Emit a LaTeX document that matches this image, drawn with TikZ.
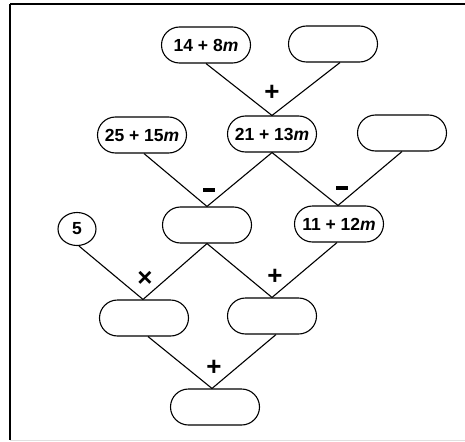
\documentclass[tikz,border=0pt]{standalone}
\usepackage{fontspec}
\setmainfont{Liberation Sans}
\usetikzlibrary{shapes.geometric}
\begin{document}
\begin{tikzpicture}[x=1pt,y=-1pt,
  pill/.style={draw,line width=1.1pt,rounded corners=18pt,minimum width=89pt,minimum height=36pt,inner sep=0pt,font=\fontsize{17.5}{20}\selectfont\bfseries},
  circ/.style={draw,ellipse,line width=1.1pt,minimum width=38pt,minimum height=33pt,inner sep=0pt,font=\fontsize{17.5}{20}\selectfont\bfseries},
  op/.style={inner sep=0pt,font=\fontsize{26}{28}\selectfont\bfseries},
  conn/.style={line width=1.1pt}]
\useasboundingbox (0,0) rectangle (465,441);
% frame
\draw[line width=2pt] (10,4.5) -- (465,4.5);
\draw[line width=2pt] (10,4.5) -- (10,440);
\draw[line width=0.6pt,black!12] (10,440) -- (465,440);
% nodes
\node[pill] (a) at (206,45) {14 + 8\textit{m}};
\node[pill] (b) at (333,44) {};
\node[pill] (c) at (142,135) {25 + 15\textit{m}};
\node[pill] (d) at (272,134) {21 + 13\textit{m}};
\node[pill] (e) at (402,133) {};
\node[circ] (f) at (77,229) {5};
\node[pill] (g) at (207,225) {};
\node[pill] (h) at (339,224) {11 + 12\textit{m}};
\node[pill] (i) at (144,318) {};
\node[pill] (j) at (272,316) {};
\node[pill] (k) at (215,407) {};
% connectors
\draw[conn] (a.south) -- (d.north);
\draw[conn] ([xshift=7pt]b.south) -- (d.north);
\draw[conn] ([xshift=2pt]c.south) -- (g.north);
\draw[conn] (d.south) -- (g.north);
\draw[conn] (d.south) -- ([xshift=-1pt]h.north);
\draw[conn] (e.south) -- ([xshift=-1pt]h.north);
\draw[conn] ([xshift=2pt]f.south) -- ([xshift=-1pt]i.north);
\draw[conn] (g.south) -- ([xshift=-1pt]i.north);
\draw[conn] (g.south) -- (j.north);
\draw[conn] ([xshift=-2pt]h.south) -- (j.north);
\draw[conn] ([xshift=4pt]i.south) -- ([xshift=-3pt]k.north);
\draw[conn] ([xshift=4pt]j.south) -- ([xshift=-3pt]k.north);
% operators
\node[op] (o1) at (272,93) {+};
\node[op] (o2) at (209,190) {\rule{12pt}{3.5pt}};
\node[op] (o3) at (342,188) {\rule{12pt}{3.5pt}};
\node[op] (o4) at (145,279) {×};
\node[op] (o5) at (275,277) {+};
\node[op] (o6) at (214,368) {+};
\end{tikzpicture}
\end{document}
